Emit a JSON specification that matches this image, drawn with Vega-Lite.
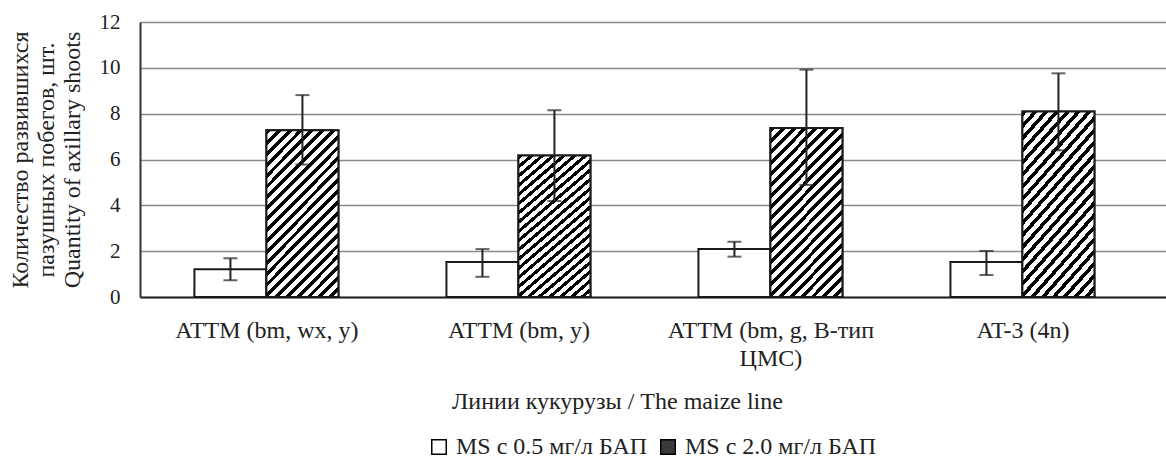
{
  "$schema": "https://vega.github.io/schema/vega-lite/v6.json",
  "autosize": {"type": "none"},
  "padding": {"left": 140, "top": 22, "right": 0, "bottom": 162},
  "width": 1026,
  "height": 275,
  "background": "white",
  "config": {
    "font": "Liberation Serif",
    "view": {"stroke": null},
    "axis": {"labelFont": "Liberation Serif", "titleFont": "Liberation Serif"},
    "legend": {"labelFont": "Liberation Serif", "titleFont": "Liberation Serif"}
  },
  "data": {"values": [
    {"line": "ATTM (bm, wx, y)", "medium": "MS с 0.5 мг/л БАП", "mean": 1.21, "lo": 0.73, "hi": 1.69},
    {"line": "ATTM (bm, wx, y)", "medium": "MS с 2.0 мг/л БАП", "mean": 7.28, "lo": 5.78, "hi": 8.81},
    {"line": "ATTM (bm, y)", "medium": "MS с 0.5 мг/л БАП", "mean": 1.53, "lo": 0.88, "hi": 2.09},
    {"line": "ATTM (bm, y)", "medium": "MS с 2.0 мг/л БАП", "mean": 6.17, "lo": 4.19, "hi": 8.15},
    {"line": "ATTM (bm, g, В-тип ЦМС)", "medium": "MS с 0.5 мг/л БАП", "mean": 2.10, "lo": 1.76, "hi": 2.41},
    {"line": "ATTM (bm, g, В-тип ЦМС)", "medium": "MS с 2.0 мг/л БАП", "mean": 7.37, "lo": 4.89, "hi": 9.92},
    {"line": "AT-3 (4n)", "medium": "MS с 0.5 мг/л БАП", "mean": 1.53, "lo": 0.96, "hi": 2.01},
    {"line": "AT-3 (4n)", "medium": "MS с 2.0 мг/л БАП", "mean": 8.10, "lo": 6.40, "hi": 9.76}
  ]},
  "encoding": {
    "x": {
      "field": "line", "type": "nominal", "sort": null,
      "scale": {"paddingInner": 0.4286, "paddingOuter": 0.25, "align": 0.432},
      "axis": {
        "title": "Линии кукурузы / The maize line",
        "titleFont": "Liberation Serif", "labelFont": "Liberation Serif",
        "titleFontSize": 24, "titleFontWeight": "normal", "titleColor": "#222",
        "titleX": 477, "titleY": 111, "titleBaseline": "alphabetic", "titleAlign": "center", "titleAnchor": null,
        "labelAngle": 0, "labelFontSize": 24, "labelColor": "#222", "labelBaseline": "top", "labelLineHeight": 28,
        "labelPadding": 28, "labelLimit": 400,
        "labelExpr": "datum.label == 'ATTM (bm, g, В-тип ЦМС)' ? ['ATTM (bm, g, В-тип', 'ЦМС)'] : datum.label",
        "domainColor": "#222", "domainWidth": 2,
        "ticks": true, "tickBand": "extent", "tickOffset": -54, "tickSize": -7, "tickColor": "#444", "tickWidth": 1.5
      }
    },
    "xOffset": {"field": "medium", "type": "nominal", "sort": null, "scale": {"paddingInner": 0, "paddingOuter": 0}}
  },
  "layer": [
    {
      "mark": {"type": "bar", "stroke": "#1a1a1a", "strokeWidth": 2},
      "encoding": {
        "y": {
          "field": "mean", "type": "quantitative",
          "scale": {"domain": [0, 12], "nice": false},
          "axis": {
            "values": [0, 2, 4, 6, 8, 10, 12],
            "title": ["Количество развившихся", "пазушных побегов, шт.", "Quantity of axillary shoots"],
            "titleFont": "Liberation Serif", "labelFont": "Liberation Serif",
            "titleFontSize": 24, "titleFontWeight": "normal", "titleColor": "#222",
            "titleX": -120, "titleY": 137.5, "titleAngle": -90, "titleBaseline": "middle", "titleAlign": "center", "titleLineHeight": 26,
            "labelFontSize": 21, "labelColor": "#222", "labelPadding": 20,
            "ticks": false,
            "domainColor": "#333", "domainWidth": 2,
            "grid": true, "gridColor": "#8a8a8a", "gridWidth": 1.5
          }
        },
        "fill": {
          "field": "medium", "type": "nominal", "sort": null,
          "scale": {"range": ["white", "#3a3a3a"]},
          "legend": {
            "title": null, "orient": "none", "legendX": 287, "legendY": 413, "direction": "horizontal",
            "labelFont": "Liberation Serif",
            "symbolType": "square", "symbolSize": 210, "symbolStrokeColor": "black", "symbolStrokeWidth": 1.5,
            "labelFontSize": 24, "labelColor": "#222", "labelOffset": 5, "columnPadding": 8, "padding": 0, "labelLimit": 400
          }
        }
      }
    },
    {
      "transform": [{"filter": "datum.medium == 'MS с 2.0 мг/л БАП'"}],
      "mark": {
        "type": "bar", "stroke": "#1a1a1a", "strokeWidth": 2,
        "fill": {"gradient": "linear", "x1": 0, "y1": 0, "x2": 0.526, "y2": 1.207, "stops": [
          {"offset": 0, "color": "black"}, {"offset": 0.0205, "color": "black"}, {"offset": 0.0205, "color": "white"}, {"offset": 0.0455, "color": "white"},
          {"offset": 0.0455, "color": "black"}, {"offset": 0.0659, "color": "black"}, {"offset": 0.0659, "color": "white"}, {"offset": 0.0909, "color": "white"},
          {"offset": 0.0909, "color": "black"}, {"offset": 0.1114, "color": "black"}, {"offset": 0.1114, "color": "white"}, {"offset": 0.1364, "color": "white"},
          {"offset": 0.1364, "color": "black"}, {"offset": 0.1568, "color": "black"}, {"offset": 0.1568, "color": "white"}, {"offset": 0.1818, "color": "white"},
          {"offset": 0.1818, "color": "black"}, {"offset": 0.2023, "color": "black"}, {"offset": 0.2023, "color": "white"}, {"offset": 0.2273, "color": "white"},
          {"offset": 0.2273, "color": "black"}, {"offset": 0.2477, "color": "black"}, {"offset": 0.2477, "color": "white"}, {"offset": 0.2727, "color": "white"},
          {"offset": 0.2727, "color": "black"}, {"offset": 0.2932, "color": "black"}, {"offset": 0.2932, "color": "white"}, {"offset": 0.3182, "color": "white"},
          {"offset": 0.3182, "color": "black"}, {"offset": 0.3386, "color": "black"}, {"offset": 0.3386, "color": "white"}, {"offset": 0.3636, "color": "white"},
          {"offset": 0.3636, "color": "black"}, {"offset": 0.3841, "color": "black"}, {"offset": 0.3841, "color": "white"}, {"offset": 0.4091, "color": "white"},
          {"offset": 0.4091, "color": "black"}, {"offset": 0.4295, "color": "black"}, {"offset": 0.4295, "color": "white"}, {"offset": 0.4545, "color": "white"},
          {"offset": 0.4545, "color": "black"}, {"offset": 0.4750, "color": "black"}, {"offset": 0.4750, "color": "white"}, {"offset": 0.5, "color": "white"},
          {"offset": 0.5, "color": "black"}, {"offset": 0.5205, "color": "black"}, {"offset": 0.5205, "color": "white"}, {"offset": 0.5455, "color": "white"},
          {"offset": 0.5455, "color": "black"}, {"offset": 0.5659, "color": "black"}, {"offset": 0.5659, "color": "white"}, {"offset": 0.5909, "color": "white"},
          {"offset": 0.5909, "color": "black"}, {"offset": 0.6114, "color": "black"}, {"offset": 0.6114, "color": "white"}, {"offset": 0.6364, "color": "white"},
          {"offset": 0.6364, "color": "black"}, {"offset": 0.6568, "color": "black"}, {"offset": 0.6568, "color": "white"}, {"offset": 0.6818, "color": "white"},
          {"offset": 0.6818, "color": "black"}, {"offset": 0.7023, "color": "black"}, {"offset": 0.7023, "color": "white"}, {"offset": 0.7273, "color": "white"},
          {"offset": 0.7273, "color": "black"}, {"offset": 0.7477, "color": "black"}, {"offset": 0.7477, "color": "white"}, {"offset": 0.7727, "color": "white"},
          {"offset": 0.7727, "color": "black"}, {"offset": 0.7932, "color": "black"}, {"offset": 0.7932, "color": "white"}, {"offset": 0.8182, "color": "white"},
          {"offset": 0.8182, "color": "black"}, {"offset": 0.8386, "color": "black"}, {"offset": 0.8386, "color": "white"}, {"offset": 0.8636, "color": "white"},
          {"offset": 0.8636, "color": "black"}, {"offset": 0.8841, "color": "black"}, {"offset": 0.8841, "color": "white"}, {"offset": 0.9091, "color": "white"},
          {"offset": 0.9091, "color": "black"}, {"offset": 0.9295, "color": "black"}, {"offset": 0.9295, "color": "white"}, {"offset": 0.9545, "color": "white"},
          {"offset": 0.9545, "color": "black"}, {"offset": 0.9750, "color": "black"}, {"offset": 0.9750, "color": "white"}, {"offset": 1, "color": "white"}
        ]}
      },
      "encoding": {
        "y": {"field": "mean", "type": "quantitative"}
      }
    },
    {
      "mark": {"type": "rule", "color": "#222", "strokeWidth": 2},
      "encoding": {
        "y": {"field": "lo", "type": "quantitative"},
        "y2": {"field": "hi"}
      }
    },
    {
      "mark": {"type": "tick", "color": "#222", "size": 14, "thickness": 2},
      "encoding": {"y": {"field": "lo", "type": "quantitative"}}
    },
    {
      "mark": {"type": "tick", "color": "#222", "size": 14, "thickness": 2},
      "encoding": {"y": {"field": "hi", "type": "quantitative"}}
    }
  ]
}
